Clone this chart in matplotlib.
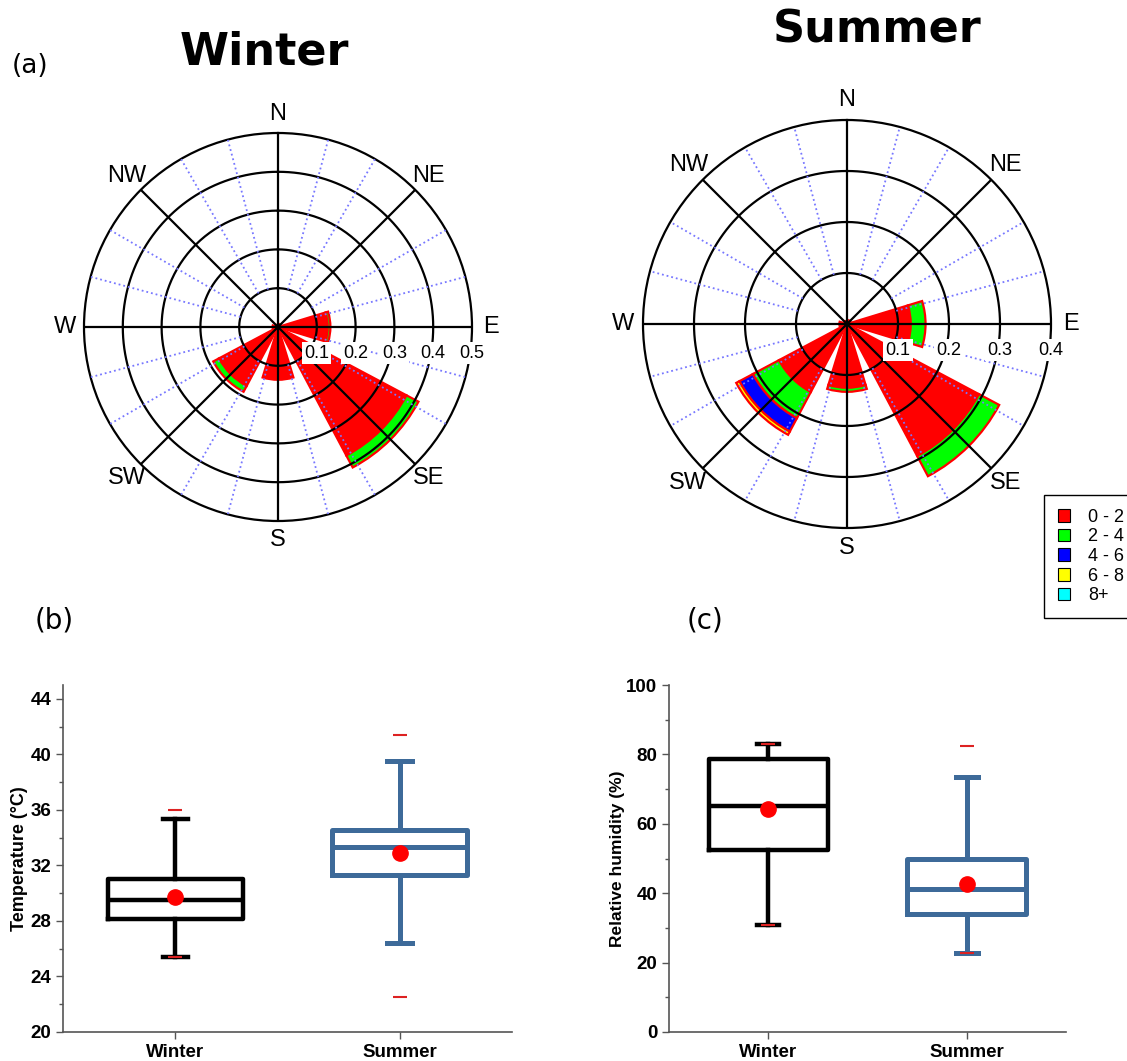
import numpy as np
import matplotlib.pyplot as plt
from matplotlib.patches import Patch

# wind roses: frequency per direction, one list per speed bin (m/s)
directions = ['N', 'NE', 'E', 'SE', 'S', 'SW', 'W', 'NW']
speed_bins = ['0 - 2', '2 - 4', '4 - 6', '6 - 8', '8+']
bin_colors = ['#ff0000', '#00ff00', '#0000ff', '#ffff00', '#00ffff']

winter_0_2 = [0.006, 0.008, 0.128, 0.375, 0.136, 0.172, 0.014, 0.006]
winter_2_4 = [0.0, 0.0, 0.007, 0.035, 0.0, 0.017, 0.0, 0.0]
winter_4_6 = [0.0] * 8
winter_6_8 = [0.0] * 8
winter_8p = [0.0] * 8

summer_0_2 = [0.006, 0.008, 0.125, 0.293, 0.125, 0.151, 0.015, 0.006]
summer_2_4 = [0.0, 0.0, 0.029, 0.045, 0.008, 0.058, 0.0, 0.0]
summer_4_6 = [0.0, 0.0, 0.0, 0.0, 0.0, 0.030, 0.0, 0.0]
summer_6_8 = [0.0, 0.0, 0.0, 0.0, 0.0, 0.007, 0.0, 0.0]
summer_8p = [0.0] * 8

winter_rings = [0.1, 0.2, 0.3, 0.4, 0.5]
summer_rings = [0.1, 0.2, 0.3, 0.4]

# box plots
seasons = ['Winter', 'Summer']
temp_q1 = [28.13, 31.31]
temp_med = [29.53, 33.31]
temp_q3 = [31.02, 34.58]
temp_lo = [25.37, 26.38]
temp_hi = [35.33, 39.52]
temp_mean = [29.7, 32.92]
temp_min = [25.37, 22.5]
temp_max = [35.98, 41.37]

rh_q1 = [52.5, 34.0]
rh_med = [65.0, 41.1]
rh_q3 = [78.8, 49.9]
rh_lo = [30.9, 22.9]
rh_hi = [83.0, 73.4]
rh_mean = [64.4, 42.6]
rh_min = [30.9, 22.9]
rh_max = [83.0, 82.5]

box_colors = ['black', '#3d6a99']

W, H = 1127, 1061
fig = plt.figure(figsize=(W / 100, H / 100), dpi=100)


def fig_box(left, top, right, bottom):
    return [left / W, 1 - bottom / H, (right - left) / W, (bottom - top) / H]


def draw_rose(ax, freqs, rings):
    rmax = rings[-1]
    ax.set_theta_zero_location('N')
    ax.set_theta_direction(-1)
    theta = np.deg2rad(np.arange(0, 360, 45))
    bottom = np.zeros(len(directions))
    for vals, c in zip(freqs, bin_colors):
        vals = np.array(vals)
        keep = vals > 0
        if keep.any():
            ax.bar(theta[keep], vals[keep], width=np.deg2rad(34), bottom=bottom[keep],
                   color=c, edgecolor='red', linewidth=1.6, zorder=2)
        bottom += vals
    ax.set_ylim(0, rmax)
    ax.set_xticks([])
    ax.set_yticks([])
    ax.grid(False)
    ax.spines['polar'].set_linewidth(1.6)
    full = np.linspace(0, 2 * np.pi, 361)
    for r in rings[:-1]:
        ax.plot(full, np.full_like(full, r), color='black', lw=1.6, zorder=3)
    for a in range(0, 360, 15):
        t = np.deg2rad(a)
        if a % 45 == 0:
            ax.plot([t, t], [0, rmax], color='black', lw=1.6, zorder=3)
        else:
            ax.plot([t, t], [rings[0], rmax], color='#7777ff', lw=1.3, ls=':', zorder=3)
    for r in rings:
        ax.annotate(f'{r:.1f}', xy=(np.pi / 2, r), xytext=(0, -26), textcoords='offset pixels',
                    ha='center', va='center', fontsize=13, family='Liberation Sans', zorder=5,
                    bbox=dict(facecolor='white', edgecolor='none', pad=1.5))
    for i, d in enumerate(directions):
        ax.text(theta[i], rmax * 1.1, d, ha='center', va='center', fontsize=17,
                family='Liberation Sans')


ax_w = fig.add_axes(fig_box(84, 133, 472, 521), projection='polar')
draw_rose(ax_w, [winter_0_2, winter_2_4, winter_4_6, winter_6_8, winter_8p], winter_rings)

ax_s = fig.add_axes(fig_box(643, 120, 1051, 528), projection='polar')
draw_rose(ax_s, [summer_0_2, summer_2_4, summer_4_6, summer_6_8, summer_8p], summer_rings)

fig.text(264 / W, 1 - 52 / H, 'Winter', ha='center', va='center', fontsize=32, fontweight='bold')
fig.text(877 / W, 1 - 30 / H, 'Summer', ha='center', va='center', fontsize=32, fontweight='bold')
fig.text(30 / W, 1 - 66 / H, '(a)', ha='center', va='center', fontsize=19)
fig.text(54 / W, 1 - 621 / H, '(b)', ha='center', va='center', fontsize=20)
fig.text(705 / W, 1 - 621 / H, '(c)', ha='center', va='center', fontsize=20)

handles = [Patch(facecolor=c, edgecolor='black', linewidth=0.8) for c in bin_colors]
fig.legend(handles, speed_bins, loc='upper left', bbox_to_anchor=(1044 / W, 1 - 495 / H),
           frameon=True, fancybox=False, edgecolor='black', framealpha=1,
           prop={'family': 'Liberation Sans', 'size': 13}, handlelength=0.7, handleheight=0.7,
           labelspacing=0.15, borderpad=0.75, handletextpad=1.0, borderaxespad=0)


def draw_box(ax, q1, med, q3, lo, hi, mean, mins, maxs, ylim, major, minor, ylabel, lsize, lpad):
    for i in range(len(seasons)):
        c = box_colors[i]
        lw = 3.2 if i == 0 else 3.6
        fl = sorted({mins[i], maxs[i]})
        stats = [dict(q1=q1[i], med=med[i], q3=q3[i], whislo=lo[i], whishi=hi[i],
                      mean=mean[i], fliers=fl)]
        ax.bxp(stats, positions=[i + 1], widths=0.6, capwidths=0.11, showmeans=True,
               boxprops=dict(color=c, lw=lw), medianprops=dict(color=c, lw=lw),
               whiskerprops=dict(color=c, lw=lw), capprops=dict(color=c, lw=lw),
               meanprops=dict(marker='o', markerfacecolor='red', markeredgecolor='red',
                              markersize=11),
               flierprops=dict(marker='_', markeredgecolor='#dd2222', markersize=10,
                               markeredgewidth=1.5, zorder=4))
    ax.set_xlim(0.5, 2.5)
    ax.set_ylim(*ylim)
    ax.set_xticks([1, 2])
    ax.set_xticklabels(seasons)
    ax.set_yticks(major)
    ax.set_yticks(minor, minor=True)
    ax.spines['top'].set_visible(False)
    ax.spines['right'].set_visible(False)
    for s in ['left', 'bottom']:
        ax.spines[s].set_color('#555555')
        ax.spines[s].set_linewidth(1.2)
    ax.tick_params(which='major', length=5, width=1, color='#555555')
    ax.tick_params(which='minor', length=3, width=1, color='#555555')
    for lab in ax.get_xticklabels() + ax.get_yticklabels():
        lab.set_fontweight('bold')
        lab.set_family('Liberation Sans')
        lab.set_fontsize(13.5)
    ax.set_ylabel(ylabel, fontsize=lsize, fontweight='bold', family='Liberation Sans',
                  labelpad=lpad)


ax_t = fig.add_axes(fig_box(63, 685, 512, 1032))
draw_box(ax_t, temp_q1, temp_med, temp_q3, temp_lo, temp_hi, temp_mean, temp_min, temp_max,
         (20, 45), np.arange(20, 45, 4), np.arange(22, 45, 4), 'Temperature (°C)', 13, 2)

ax_h = fig.add_axes(fig_box(669, 685, 1066, 1032))
draw_box(ax_h, rh_q1, rh_med, rh_q3, rh_lo, rh_hi, rh_mean, rh_min, rh_max,
         (0, 100), np.arange(0, 101, 20), np.arange(10, 100, 20), 'Relative humidity (%)', 12.5, 1)

fig.savefig('out.png', dpi=100)
